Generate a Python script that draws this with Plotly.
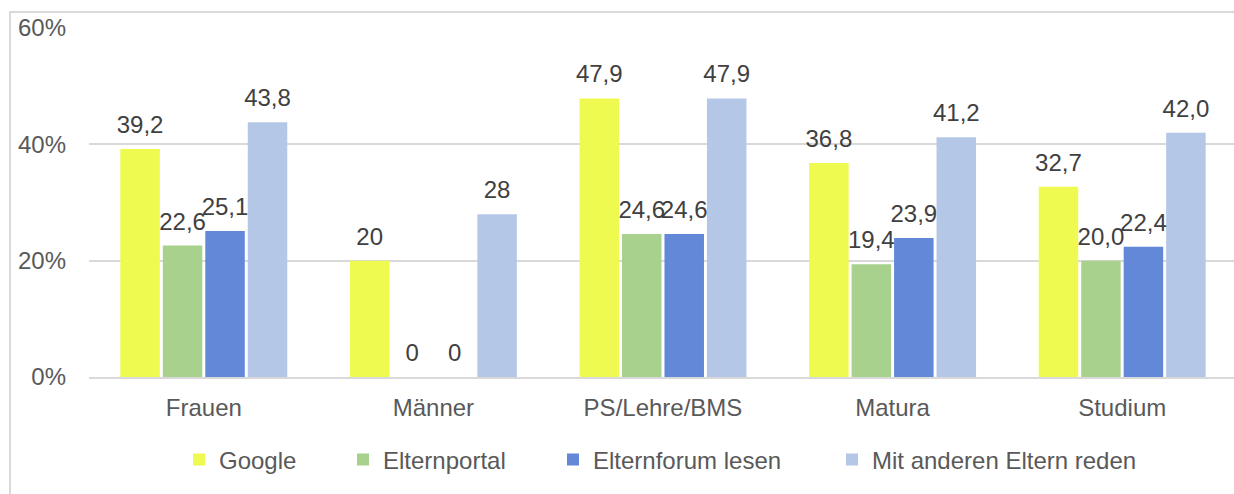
import plotly.graph_objects as go

categories = ["Frauen", "Männer", "PS/Lehre/BMS", "Matura", "Studium"]
series_names = ["Google", "Elternportal", "Elternforum lesen", "Mit anderen Eltern reden"]

google = [39.2, 20, 47.9, 36.8, 32.7]
elternportal = [22.6, 0, 24.6, 19.4, 20.0]
elternforum = [25.1, 0, 24.6, 23.9, 22.4]
mit_eltern = [43.8, 28, 47.9, 41.2, 42.0]

google_labels = ["39,2", "20", "47,9", "36,8", "32,7"]
elternportal_labels = ["22,6", "0", "24,6", "19,4", "20,0"]
elternforum_labels = ["25,1", "0", "24,6", "23,9", "22,4"]
mit_eltern_labels = ["43,8", "28", "47,9", "41,2", "42,0"]

tick_vals = [0, 20, 40, 60]
tick_text = ["0%", "20%", "40%", "60%"]

colors = ["#EFFA50", "#A9D18E", "#6388D7", "#B4C7E7"]

FONT = "Liberation Sans, Arial, sans-serif"
FS = 24

# legend text start positions (px, container coords)
legend_text_x = [219, 383, 593, 872]
legend_ids = ["legend", "legend2", "legend3", "legend4"]

all_vals = [google, elternportal, elternforum, mit_eltern]
all_labels = [google_labels, elternportal_labels, elternforum_labels, mit_eltern_labels]

fig = go.Figure()
for name, vals, col, lid in zip(series_names, all_vals, colors, legend_ids):
    fig.add_trace(go.Bar(
        name=name, x=categories, y=vals, legend=lid,
        marker=dict(color=col, line=dict(width=0)),
    ))

# data labels, grouped like the bars (scattermode="group")
for name, vals, labels in zip(series_names, all_vals, all_labels):
    fig.add_trace(go.Scatter(
        name=name + " labels", x=categories, y=vals, text=labels,
        mode="markers+text", textposition="top center", cliponaxis=False,
        marker=dict(size=14.4, opacity=0), showlegend=False, hoverinfo="skip",
        textfont=dict(family=FONT, size=FS, color="#404040"),
    ))

legend_common = dict(orientation="h", xref="container", yref="container",
                     xanchor="left", yanchor="middle", y=1 - 460 / 494,
                     bgcolor="rgba(0,0,0,0)", borderwidth=0,
                     font=dict(family=FONT, size=FS, color="#595959"))

layout_legends = {}
for lid, tx in zip(legend_ids, legend_text_x):
    layout_legends[lid] = dict(legend_common, x=(tx - 40) / 1234)

fig.update_layout(
    width=1234, height=494,
    margin=dict(l=89, r=0, t=28, b=117),
    paper_bgcolor="white", plot_bgcolor="white",
    barmode="group", bargap=0.26, bargroupgap=0.07,
    scattermode="group", scattergap=0.26,
    font=dict(family=FONT, size=FS, color="#595959"),
    showlegend=True,
    xaxis=dict(range=[-0.5, 4.487], showgrid=False, showline=True, linecolor="#D9D9D9",
               linewidth=2, ticks="", ticklabelstandoff=8,
               tickfont=dict(family=FONT, size=FS, color="#595959")),
    yaxis=dict(range=[0, 60], tickvals=tick_vals, ticktext=tick_text, showgrid=True,
               gridcolor="#D9D9D9", gridwidth=2, zeroline=False, showline=False,
               ticks="", ticklabelstandoff=22,
               tickfont=dict(family=FONT, size=FS, color="#595959")),
    shapes=[dict(type="rect", xref="paper", yref="paper",
                 x0=-79 / 1145, x1=1.05, y0=-0.5, y1=1 + 16 / 349,
                 line=dict(color="#D9D9D9", width=2), fillcolor="rgba(0,0,0,0)", layer="below")],
    **layout_legends,
)

fig.write_html("out.html", config={"displayModeBar": False},
               post_script="document.body.style.margin='0';")
